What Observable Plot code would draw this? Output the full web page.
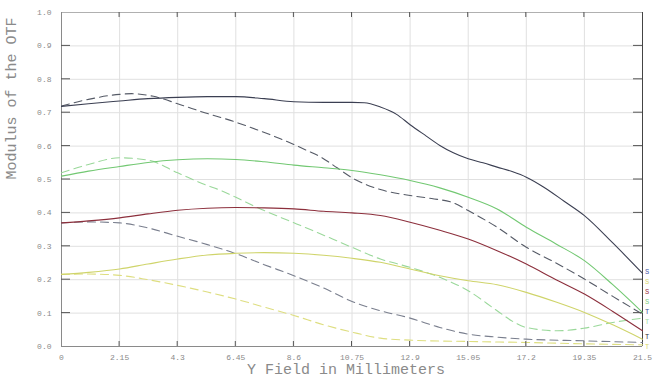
<!DOCTYPE html>
<html>
<head>
<meta charset="utf-8">
<script src="https://cdn.jsdelivr.net/npm/d3@7"></script>
<script src="https://cdn.jsdelivr.net/npm/@observablehq/plot@0.6"></script>
<style>
  html, body { margin: 0; padding: 0; background: #fff; }
  #chart { width: 654px; height: 383px; overflow: hidden; }
</style>
</head>
<body>
<div id="chart"></div>
<script>
// ---- data (field in mm, modulus of OTF) ----
const xTicks = [0, 2.15, 4.3, 6.45, 8.6, 10.75, 12.9, 15.05, 17.2, 19.35, 21.5];
const xTickLabels = ["0", "2.15", "4.3", "6.45", "8.6", "10.75", "12.9", "15.05", "17.2", "19.35", "21.5"];
const yTicks = [0, 0.1, 0.2, 0.3, 0.4, 0.5, 0.6, 0.7, 0.8, 0.9, 1.0];
const yTickLabels = ["0.0", "0.1", "0.2", "0.3", "0.4", "0.5", "0.6", "0.7", "0.8", "0.9", "1.0"];

const blackT = [[0,0.719],[1,0.727],[2.15,0.735],[3.2,0.742],[4.3,0.746],[5.4,0.748],[6.45,0.748],[7.5,0.742],[8.6,0.733],[9.7,0.731],[10.75,0.731],[11.2,0.73],[11.8,0.717],[12.4,0.695],[12.9,0.664],[13.5,0.63],[14.0,0.602],[14.5,0.58],[15.05,0.562],[15.6,0.55],[16.12,0.537],[16.7,0.523],[17.2,0.507],[17.85,0.477],[18.6,0.435],[19.35,0.392],[20.4,0.31],[21.5,0.219]];
const blackS = [[0,0.72],[1,0.74],[2.15,0.755],[2.6,0.757],[3.4,0.749],[4.4,0.724],[5.3,0.70],[6.25,0.677],[7.2,0.65],[8.1,0.622],[9.0,0.59],[9.6,0.567],[10.2,0.535],[10.8,0.503],[11.8,0.47],[12.9,0.452],[13.7,0.443],[14.5,0.43],[15.05,0.407],[16.12,0.357],[17.2,0.297],[18.3,0.25],[19.35,0.202],[20.4,0.15],[21.5,0.097]];
const greenT = [[0,0.51],[1,0.525],[2.15,0.539],[3.2,0.551],[4.3,0.559],[5.4,0.562],[6.45,0.56],[7.5,0.553],[8.6,0.543],[9.7,0.535],[10.75,0.527],[11.8,0.514],[12.9,0.497],[14.0,0.475],[15.05,0.447],[16.12,0.412],[17.2,0.357],[18.3,0.307],[19.35,0.257],[20.4,0.185],[21.5,0.102]];
const greenS = [[0,0.52],[1,0.545],[2.15,0.565],[3.2,0.558],[4.3,0.52],[5.3,0.485],[5.9,0.467],[6.7,0.437],[7.5,0.407],[8.4,0.377],[9.3,0.347],[10.75,0.297],[11.8,0.262],[12.9,0.237],[14.0,0.207],[15.05,0.167],[16.12,0.107],[16.7,0.075],[17.2,0.057],[18.35,0.047],[19.35,0.055],[20.4,0.072],[21.5,0.085]];
const redT = [[0,0.37],[1,0.376],[2.15,0.385],[3.2,0.397],[4.3,0.408],[5.4,0.414],[6.45,0.416],[7.5,0.415],[8.6,0.412],[9.7,0.405],[10.75,0.40],[11.8,0.392],[12.9,0.372],[14.0,0.348],[15.05,0.322],[16.12,0.287],[17.2,0.247],[18.3,0.20],[19.35,0.157],[20.4,0.105],[21.5,0.047]];
const redS = [[0,0.37],[1,0.373],[2.15,0.37],[3.2,0.355],[4.3,0.33],[5.4,0.305],[6.45,0.278],[7.5,0.245],[8.6,0.212],[9.7,0.175],[10.75,0.135],[11.8,0.107],[12.9,0.085],[14.0,0.057],[15.05,0.037],[16.12,0.028],[17.2,0.022],[19.35,0.017],[21.5,0.012]];
const yellowT = [[0,0.216],[1,0.222],[2.15,0.232],[3.2,0.247],[4.3,0.262],[5.4,0.274],[6.45,0.279],[7.5,0.281],[8.6,0.279],[9.7,0.273],[10.75,0.264],[11.8,0.252],[12.9,0.232],[14.0,0.212],[15.05,0.197],[16.12,0.185],[17.2,0.162],[18.3,0.133],[19.35,0.102],[20.4,0.065],[21.5,0.022]];
const yellowS = [[0,0.216],[1,0.217],[2.15,0.213],[3.2,0.2],[4.3,0.183],[5.4,0.163],[6.45,0.142],[7.5,0.118],[8.6,0.093],[9.7,0.065],[10.75,0.043],[11.8,0.025],[12.9,0.019],[15.05,0.015],[17.2,0.012],[19.35,0.008],[21.5,0.005]];

const legendLabels = ["S", "S", "S", "S", "T", "T", "T", "T"];
const legendColors = ["#4a5aa8", "#d8d870", "#9a3040", "#7fcf7f", "#3a4a98", "#9fdf9f", "#333333", "#d8d870"];

// ---- series definitions ----
const series = [
  {name: "yellowS", data: yellowS, color: "#dede80", dash: "8,5"},
  {name: "redS", data: redS, color: "#7a7f8e", dash: "8,5"},
  {name: "greenS", data: greenS, color: "#9ad89a", dash: "8,5"},
  {name: "blackS", data: blackS, color: "#555a66", dash: "8,5"},
  {name: "yellowT", data: yellowT, color: "#cfd46a", dash: null},
  {name: "redT", data: redT, color: "#8c2f3c", dash: null},
  {name: "greenT", data: greenT, color: "#72c872", dash: null},
  {name: "blackT", data: blackT, color: "#3b3f52", dash: null}
];

const font = "'Liberation Mono', 'DejaVu Sans Mono', monospace";
const tickColor = "#8a8a8a";

const lineMarks = series.map(s => Plot.line(s.data, {
  x: d => d[0], y: d => d[1],
  stroke: s.color, strokeWidth: 1.1,
  strokeDasharray: s.dash || undefined,
  curve: "monotone-x"
}));

const plot = Plot.plot({
  width: 654, height: 383,
  marginLeft: 61, marginRight: 12, marginTop: 12, marginBottom: 37,
  style: {fontFamily: font, background: "#fff"},
  x: {type: "linear", domain: [0, 21.5]},
  y: {type: "linear", domain: [0, 1]},
  marks: [
    // grid
    Plot.ruleX(xTicks, {stroke: "#e0e0e0", strokeWidth: 1}),
    Plot.ruleY(yTicks, {stroke: "#e0e0e0", strokeWidth: 1}),
    // frame
    Plot.ruleY([0], {stroke: "#8a8a8a"}),
    Plot.ruleY([1], {stroke: "#b0b0b0"}),
    Plot.ruleX([0], {stroke: "#8a8a8a"}),
    Plot.ruleX([21.5], {stroke: "#444"}),
    ...lineMarks,
    // axes labels
    Plot.axisX(xTicks, {tickFormat: (d, i) => xTickLabels[i], tickSize: 0, tickPadding: 8,
      fontSize: 8, fill: tickColor, label: null}),
    Plot.axisY(yTicks, {tickFormat: (d, i) => yTickLabels[i], tickSize: 0, tickPadding: 10,
      fontSize: 8, fill: tickColor, label: null}),
    // axis titles
    Plot.text(["Y Field in Millimeters"], {frameAnchor: "bottom", dy: 27, dx: -6, fontSize: 15, fill: "#8a8a8a"}),
    Plot.text(["Modulus of the OTF"], {frameAnchor: "left", dx: -50, rotate: -90, fontSize: 15, fill: "#8a8a8a"})
  ]
});

document.getElementById("chart").appendChild(plot);

// inward tick marks on all four sides using the plot's scales
const sx = plot.scale("x"), sy = plot.scale("y");
const svg = d3.select(plot);
const g = svg.append("g").attr("stroke", "#555").attr("stroke-width", 1);
yTicks.slice(1, -1).forEach(v => {
  const yy = sy.apply(v);
  g.append("line").attr("x1", sx.apply(0)).attr("x2", sx.apply(0) + 9).attr("y1", yy).attr("y2", yy);
  g.append("line").attr("x1", sx.apply(21.5)).attr("x2", sx.apply(21.5) - 9).attr("y1", yy).attr("y2", yy);
});
xTicks.slice(1, -1).forEach(v => {
  const xx = sx.apply(v);
  g.append("line").attr("x1", xx).attr("x2", xx).attr("y1", sy.apply(0)).attr("y2", sy.apply(0) - 5);
  g.append("line").attr("x1", xx).attr("x2", xx).attr("y1", sy.apply(1)).attr("y2", sy.apply(1) + 5);
});

// legend glyphs at right edge
const lg = svg.append("g").attr("font-family", font).attr("font-size", 7);
legendLabels.forEach((t, i) => {
  const yy = 274 + i * 10 + (i >= 6 ? 5 : 0);
  lg.append("text").attr("x", 647).attr("y", yy).attr("fill", legendColors[i]).text(t);
});
</script>
</body>
</html>
